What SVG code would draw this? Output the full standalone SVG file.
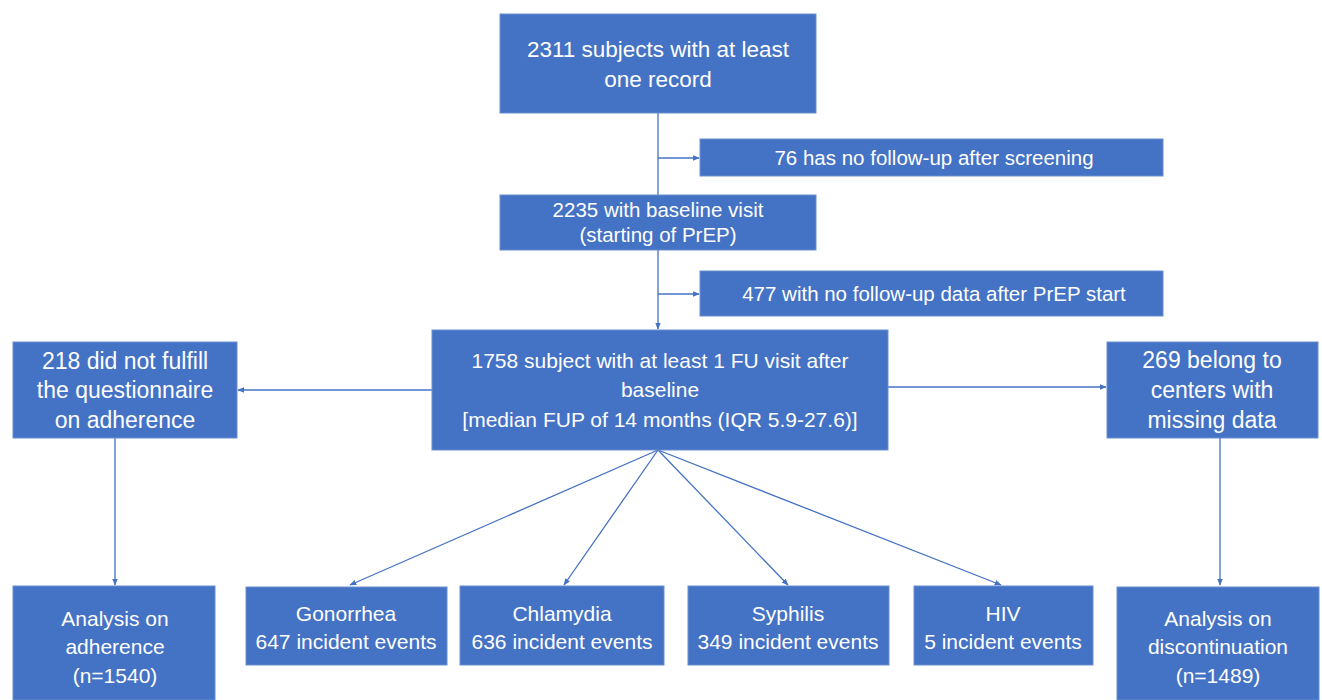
<svg xmlns="http://www.w3.org/2000/svg" width="1322" height="700" viewBox="0 0 1322 700">
<style>
.box{fill:#4472C4;stroke:#6a8fd0;stroke-width:1}
.t{font-family:"Liberation Sans",Arial,sans-serif;fill:#ffffff;text-anchor:middle}
.l{font-size:22.5px}
.k{font-size:23px}
.m{font-size:20.5px}
.s{font-size:21px}
.c{stroke:#4472C4;stroke-width:1.3;fill:none}
</style>
<defs>
<marker id="ah" viewBox="0 0 10 10" refX="9" refY="5" markerWidth="7" markerHeight="7" orient="auto" markerUnits="userSpaceOnUse">
<path d="M0,1 L10,5 L0,9 z" fill="#4472C4"/>
</marker>
</defs>
<rect width="1322" height="700" fill="#ffffff"/>
<g id="connectors">
<line class="c" x1="658" y1="113" x2="658" y2="195"/>
<line class="c" x1="658" y1="158" x2="699" y2="158" marker-end="url(#ah)"/>
<line class="c" x1="658" y1="250" x2="658" y2="329" marker-end="url(#ah)"/>
<line class="c" x1="658" y1="294" x2="699" y2="294" marker-end="url(#ah)"/>
<line class="c" x1="432" y1="390" x2="238" y2="390" marker-end="url(#ah)"/>
<line class="c" x1="888" y1="387" x2="1106" y2="387" marker-end="url(#ah)"/>
<line class="c" x1="115" y1="438" x2="115" y2="585" marker-end="url(#ah)"/>
<line class="c" x1="1220" y1="438" x2="1220" y2="585" marker-end="url(#ah)"/>
<line class="c" x1="658" y1="450" x2="350" y2="585" marker-end="url(#ah)"/>
<line class="c" x1="658" y1="450" x2="564" y2="585" marker-end="url(#ah)"/>
<line class="c" x1="658" y1="450" x2="788" y2="585" marker-end="url(#ah)"/>
<line class="c" x1="658" y1="450" x2="1001" y2="585" marker-end="url(#ah)"/>
</g>
<g id="n2311">
<rect class="box" x="500" y="14" width="316" height="99"/>
<text class="t l" x="658" y="57">2311 subjects with at least</text>
<text class="t l" x="658" y="87">one record</text>
</g>
<g id="n76">
<rect class="box" x="700" y="139" width="463" height="37"/>
<text class="t m" x="934" y="165">76 has no follow-up after screening</text>
</g>
<g id="n2235">
<rect class="box" x="500" y="195" width="316" height="55"/>
<text class="t m" x="658" y="217">2235 with baseline visit</text>
<text class="t m" x="658" y="242">(starting of PrEP)</text>
</g>
<g id="n477">
<rect class="box" x="700" y="271" width="463" height="45"/>
<text class="t m" x="934" y="301">477 with no follow-up data after PrEP start</text>
</g>
<g id="n1758">
<rect class="box" x="432" y="330" width="456" height="120"/>
<text class="t s" x="660" y="368">1758 subject with at least 1 FU visit after</text>
<text class="t s" x="660" y="397">baseline</text>
<text class="t s" x="660" y="427">[median FUP of 14 months (IQR 5.9-27.6)]</text>
</g>
<g id="n218">
<rect class="box" x="13" y="342" width="224" height="96"/>
<text class="t k" x="125" y="369">218 did not fulfill</text>
<text class="t k" x="125" y="398">the questionnaire</text>
<text class="t k" x="125" y="428">on adherence</text>
</g>
<g id="n269">
<rect class="box" x="1107" y="342" width="211" height="96"/>
<text class="t k" x="1212" y="368">269 belong to</text>
<text class="t k" x="1212" y="398">centers with</text>
<text class="t k" x="1212" y="428">missing data</text>
</g>
<g id="nAdh">
<rect class="box" x="13" y="586" width="202" height="114"/>
<text class="t s" x="115" y="626">Analysis on</text>
<text class="t s" x="115" y="654">adherence</text>
<text class="t s" x="115" y="683">(n=1540)</text>
</g>
<g id="nGon">
<rect class="box" x="246" y="587" width="201" height="78"/>
<text class="t s" x="346" y="621">Gonorrhea</text>
<text class="t s" x="346" y="649">647 incident events</text>
</g>
<g id="nChl">
<rect class="box" x="460" y="586" width="204" height="79"/>
<text class="t s" x="562" y="621">Chlamydia</text>
<text class="t s" x="562" y="649">636 incident events</text>
</g>
<g id="nSyp">
<rect class="box" x="688" y="586" width="201" height="79"/>
<text class="t s" x="788" y="621">Syphilis</text>
<text class="t s" x="788" y="649">349 incident events</text>
</g>
<g id="nHIV">
<rect class="box" x="914" y="586" width="179" height="79"/>
<text class="t s" x="1003" y="621">HIV</text>
<text class="t s" x="1003" y="649">5 incident events</text>
</g>
<g id="nDis">
<rect class="box" x="1117" y="587" width="202" height="113"/>
<text class="t s" x="1218" y="626">Analysis on</text>
<text class="t s" x="1218" y="654">discontinuation</text>
<text class="t s" x="1218" y="683">(n=1489)</text>
</g>
</svg>
